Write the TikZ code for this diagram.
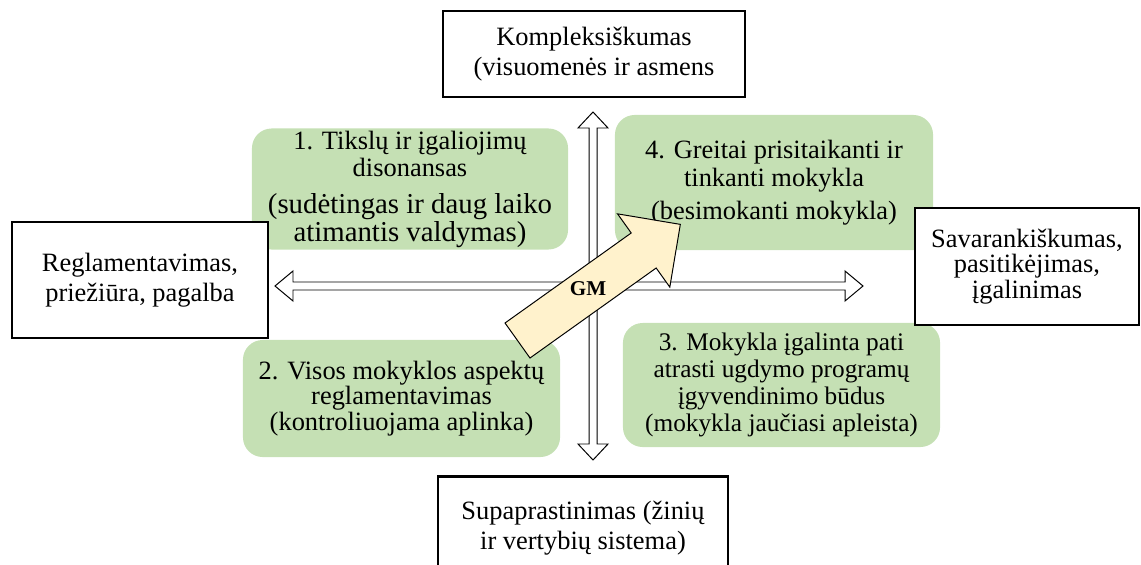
\documentclass[tikz,border=0pt]{standalone}
\usepackage{fontspec}
\setmainfont{Liberation Serif}
\usetikzlibrary{positioning}
\definecolor{quadgreen}{HTML}{C5E0B4}
\definecolor{gmyellow}{HTML}{FFF2CC}
\newcommand{\bigpara}{\fontsize{20.5}{18}\selectfont}

\begin{document}
\begin{tikzpicture}[x=0.025cm, y=-0.025cm,
  pole/.style={draw=black, line width=1.5pt, fill=white, align=center, inner sep=0pt,
    font=\fontsize{18.8}{21}\selectfont},
  quad/.style={fill=quadgreen, rounded corners=14pt, align=center, inner sep=0pt,
    font=\fontsize{18.8}{19.5}\selectfont},
  axis/.style={draw=black, line width=0.7pt, fill=white},
  gmarrow/.style={draw=black, line width=0.7pt, fill=gmyellow}]

\useasboundingbox (0,0) rectangle (1141,564);

% =========== Quadrants ===========
\node[quad, minimum width=7.9cm, minimum height=3.025cm] (q1) at (410,189)
  {1. Tikslų ir įgaliojimų\\disonansas\\[7pt]%
   \bigpara(sudėtingas ir daug laiko\\\bigpara atimantis valdymas)};
\node[quad, minimum width=7.95cm, minimum height=3.375cm] (q4) at (774,182.5)
  {4. Greitai prisitaikanti ir\\tinkanti mokykla\\[4pt](besimokanti mokykla)};
\node[quad, minimum width=7.925cm, minimum height=2.925cm,
      font=\fontsize{18.8}{18.2}\selectfont] (q2) at (401.5,398.5)
  {2. Visos mokyklos aspektų\\reglamentavimas\\(kontroliuojama aplinka)};
\node[quad, minimum width=7.925cm, minimum height=3.1cm,
      font=\fontsize{18}{19.2}\selectfont] (q3) at (781.5,385)
  {3. Mokykla įgalinta pati\\atrasti ugdymo programų\\įgyvendinimo būdus\\(mokykla jaučiasi apleista)};

% =========== Axes ===========
% horizontal double-headed arrow
\draw[axis] (275,286) -- (293,271) -- (293,282) -- (845,282) -- (845,271) -- (863,286)
  -- (845,301) -- (845,290) -- (293,290) -- (293,301) -- cycle;
% vertical double-headed arrow
\draw[axis] (593,112) -- (608,128) -- (597,128) -- (597,444) -- (608,444) -- (593,460)
  -- (578,444) -- (589,444) -- (589,128) -- (578,128) -- cycle;

% =========== Poles ===========
\node[pole, minimum width=7.55cm, minimum height=2.15cm] (compl) at (594,54)
  {Kompleksiškumas\\(visuomenės ir asmens};
\node[pole, minimum width=6.4cm, minimum height=2.9cm] (regl) at (140,280)
  {Reglamentavimas,\\priežiūra, pagalba};
\node[pole, minimum width=5.6cm, minimum height=2.925cm,
      font=\fontsize{18.8}{18}\selectfont] (savar) at (1027,266.5)
  {Savarankiškumas,\\pasitikėjimas,\\įgalinimas};
\node[pole, minimum width=7.25cm, minimum height=2.575cm] (supap) at (583,528)
  {Supaprastinimas (žinių\\ir vertybių sistema)};

% =========== GM arrow ===========
\begin{scope}[shift={(517.5,340.5)}, rotate=35.5]
  \draw[gmarrow] (0,-21.5) -- (155,-21.5) -- (155,-45) -- (200,0) -- (155,45)
    -- (155,21.5) -- (0,21.5) -- cycle;
\end{scope}
\node[font=\fontsize{15}{15}\selectfont\bfseries] (gm) at (588,289) {GM};

\end{tikzpicture}
\end{document}
